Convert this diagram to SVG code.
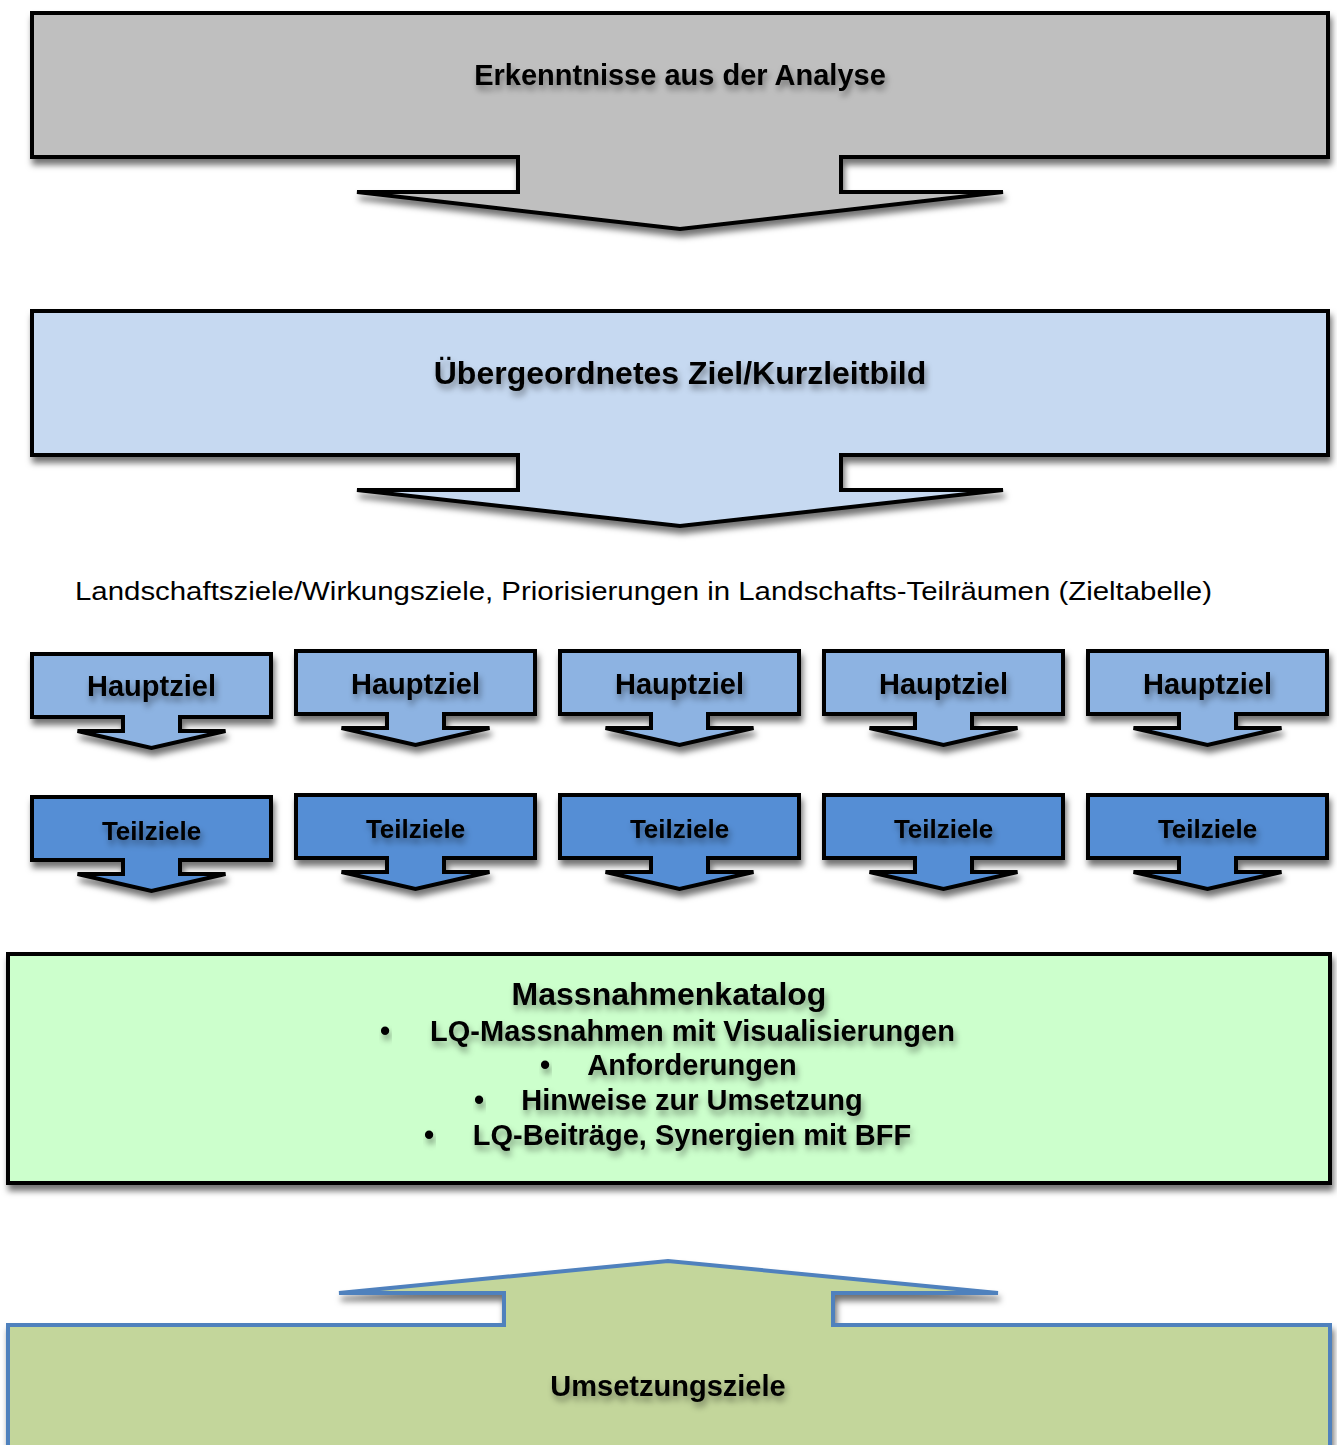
<svg xmlns="http://www.w3.org/2000/svg" xmlns:xlink="http://www.w3.org/1999/xlink" width="1337" height="1445" viewBox="0 0 1337 1445">
<defs>
<filter id="shadow" x="-5%" y="-10%" width="115%" height="130%">
<feDropShadow dx="2" dy="6" stdDeviation="3" flood-color="#000" flood-opacity="0.55"/>
</filter>
<filter id="tshadow" x="-5%" y="-30%" width="115%" height="190%">
<feDropShadow dx="2" dy="5" stdDeviation="3" flood-color="#000" flood-opacity="0.4"/>
</filter>
<path id="small" d="M-119.5,0 H119.5 V63 H28.5 V77 H74 L0,94 L-74,77 H-28.5 V63 H-119.5 Z"/>
</defs>
<style>
.shape{stroke:#000;stroke-width:4;stroke-linejoin:miter;filter:url(#shadow)}
.t{font-family:"Liberation Sans",Arial,sans-serif;font-weight:bold;fill:#000;text-anchor:middle;filter:url(#tshadow)}
.plain{font-family:"Liberation Sans",Arial,sans-serif;font-size:26px;fill:#000}
.haupt{fill:#8db3e2}
.teil{fill:#558ed5}
</style>
<rect width="1337" height="1445" fill="#fff"/>

<g id="analyse">
<path class="shape" fill="#bfbfbf" d="M32,13 H1328 V157 H841 V192 H1003 L680,229 L357,192 H518 V157 H32 Z"/>
<text class="t" x="680" y="85" font-size="29">Erkenntnisse aus der Analyse</text>
</g>

<g id="kurzleitbild">
<path class="shape" fill="#c6d9f1" d="M32,311 H1328 V455 H841 V490 H1003 L680,526 L357,490 H518 V455 H32 Z"/>
<text class="t" x="680" y="384" font-size="32">Übergeordnetes Ziel/Kurzleitbild</text>
</g>

<g id="landschaftsziele">
<text class="plain" x="75" y="600" textLength="1137" lengthAdjust="spacingAndGlyphs">Landschaftsziele/Wirkungsziele, Priorisierungen in Landschafts-Teilräumen (Zieltabelle)</text>
</g>

<g id="hauptziel1" transform="translate(151.5,654)">
<use href="#small" class="shape haupt"/>
<text class="t" x="0" y="42" font-size="29">Hauptziel</text>
</g>
<g id="hauptziel2" transform="translate(415.5,651)">
<use href="#small" class="shape haupt"/>
<text class="t" x="0" y="43" font-size="29">Hauptziel</text>
</g>
<g id="hauptziel3" transform="translate(679.5,651)">
<use href="#small" class="shape haupt"/>
<text class="t" x="0" y="43" font-size="29">Hauptziel</text>
</g>
<g id="hauptziel4" transform="translate(943.5,651)">
<use href="#small" class="shape haupt"/>
<text class="t" x="0" y="43" font-size="29">Hauptziel</text>
</g>
<g id="hauptziel5" transform="translate(1207.5,651)">
<use href="#small" class="shape haupt"/>
<text class="t" x="0" y="43" font-size="29">Hauptziel</text>
</g>

<g id="teilziele1" transform="translate(151.5,797)">
<use href="#small" class="shape teil"/>
<text class="t" x="0" y="43" font-size="26">Teilziele</text>
</g>
<g id="teilziele2" transform="translate(415.5,795)">
<use href="#small" class="shape teil"/>
<text class="t" x="0" y="43" font-size="26">Teilziele</text>
</g>
<g id="teilziele3" transform="translate(679.5,795)">
<use href="#small" class="shape teil"/>
<text class="t" x="0" y="43" font-size="26">Teilziele</text>
</g>
<g id="teilziele4" transform="translate(943.5,795)">
<use href="#small" class="shape teil"/>
<text class="t" x="0" y="43" font-size="26">Teilziele</text>
</g>
<g id="teilziele5" transform="translate(1207.5,795)">
<use href="#small" class="shape teil"/>
<text class="t" x="0" y="43" font-size="26">Teilziele</text>
</g>

<g id="massnahmenkatalog">
<rect class="shape" x="8" y="954" width="1322" height="229" fill="#ccffcc" stroke-width="3"/>
<text class="t" x="669" y="1005" font-size="32">Massnahmenkatalog</text>
<text class="t" x="385" y="1041" font-size="29">•</text>
<text class="t" x="692.5" y="1041" font-size="29">LQ-Massnahmen mit Visualisierungen</text>
<text class="t" x="545" y="1075" font-size="29">•</text>
<text class="t" x="692" y="1075" font-size="29">Anforderungen</text>
<text class="t" x="479" y="1110" font-size="29">•</text>
<text class="t" x="692" y="1110" font-size="29">Hinweise zur Umsetzung</text>
<text class="t" x="429" y="1145" font-size="29">•</text>
<text class="t" x="692" y="1145" font-size="29">LQ-Beiträge, Synergien mit BFF</text>
</g>

<g id="umsetzungsziele">
<path fill="#c3d69b" stroke="#4f81bd" stroke-width="4" filter="url(#shadow)" d="M8,1325 H504 V1293 H339 L668,1261 L998,1293 H833 V1325 H1330 V1470 H8 Z"/>
<text class="t" x="668" y="1396" font-size="29">Umsetzungsziele</text>
</g>

<g id="connectors"></g>
</svg>
